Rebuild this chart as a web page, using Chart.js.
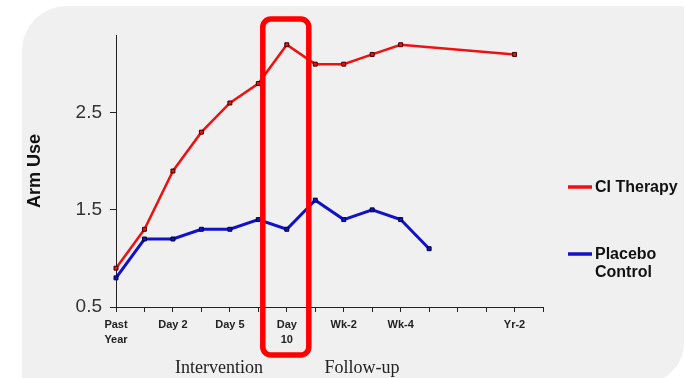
<!DOCTYPE html>
<html>
<head>
<meta charset="utf-8">
<script src="https://cdn.jsdelivr.net/npm/chart.js@4.4.1/dist/chart.umd.min.js"></script>
<style>
  html, body { margin: 0; padding: 0; background: #fff; }
  #wrap { position: relative; width: 685px; height: 378px; overflow: hidden; }
  #panel {
    position: absolute; left: 22px; top: 6px; width: 662px; height: 377px;
    background: #f0f0f0; border-radius: 45px 0 40px 0;
  }
  canvas { position: absolute; left: 0; top: 0; }
</style>
</head>
<body>
<div id="wrap">
  <div id="panel"></div>
  <canvas id="chart" width="685" height="378"></canvas>
</div>
<script>
// x positions (one per tick), blank ones are unlabelled ticks
const timeLabels = [["Past", "Year"], "", "Day 2", "", "Day 5", "", ["Day", "10"], "",
  "Wk-2", "", "Wk-4", "", "", "", "Yr-2", ""];
const ciTherapy = [0.9, 1.3, 1.9, 2.3, 2.6, 2.8, 3.2, 3.0, 3.0, 3.1, 3.2, null, null, null, 3.1, null];
const placebo = [0.8, 1.2, 1.2, 1.3, 1.3, 1.4, 1.3, 1.6, 1.4, 1.5, 1.4, 1.1, null, null, null, null];
const yTicks = [0.5, 1.5, 2.5];
const phaseLabels = ["Intervention", "Follow-up"];

const RED = "#ee1111";
const BLUE = "#1111cc";

// red box around Day 10, phase captions and the legend on the right
const extras = {
  id: "extras",
  afterDraw(chart) {
    const { ctx, scales: { x } } = chart;
    const cx = x.getPixelForValue(6);
    ctx.save();
    ctx.strokeStyle = "#ff0000";
    ctx.lineWidth = 5.5;
    ctx.beginPath();
    ctx.roundRect(cx - 24, 19, 46, 336, 8);
    ctx.stroke();

    ctx.fillStyle = "#222";
    ctx.font = "18px 'Liberation Serif', serif";
    ctx.textAlign = "center";
    ctx.textBaseline = "middle";
    ctx.fillText(phaseLabels[0], 219, 368);
    ctx.fillText(phaseLabels[1], 362, 368);

    // legend
    ctx.textAlign = "left";
    ctx.font = "bold 16px 'Liberation Sans', Arial, sans-serif";
    ctx.lineWidth = 3.5;
    const items = [
      { color: RED, lines: ["CI Therapy"], y: 187 },
      { color: BLUE, lines: ["Placebo", "Control"], y: 254 },
    ];
    items.forEach((it) => {
      ctx.strokeStyle = it.color;
      ctx.beginPath();
      ctx.moveTo(568, it.y);
      ctx.lineTo(592, it.y);
      ctx.stroke();
      ctx.fillStyle = "#111";
      it.lines.forEach((t, i) => ctx.fillText(t, 595, it.y + 1 + i * 18));
    });
    ctx.restore();
  },
};

new Chart(document.getElementById("chart"), {
  type: "line",
  data: {
    labels: timeLabels,
    datasets: [
      {
        label: "CI Therapy",
        data: ciTherapy,
        borderColor: RED,
        backgroundColor: RED,
        borderWidth: 2.5,
        pointStyle: "rect",
        pointRadius: 2.8,
        pointBorderColor: "#3a0000",
        pointBorderWidth: 1,
        spanGaps: true,
        tension: 0,
      },
      {
        label: "Placebo Control",
        data: placebo,
        borderColor: BLUE,
        backgroundColor: BLUE,
        borderWidth: 3,
        pointStyle: "rect",
        pointRadius: 2.8,
        pointBorderColor: "#000033",
        pointBorderWidth: 1,
        spanGaps: false,
        tension: 0,
      },
    ],
  },
  options: {
    responsive: false,
    animation: false,
    layout: { padding: { left: 0, right: 142, top: 35, bottom: 0 } },
    plugins: { legend: { display: false }, tooltip: { enabled: false } },
    scales: {
      x: {
        type: "category",
        offset: false,
        afterFit: (s) => { s.height = 71; },
        border: { color: "#222", width: 1 },
        grid: { drawOnChartArea: false, drawTicks: true, tickLength: 5, color: "#222" },
        ticks: {
          autoSkip: false,
          maxRotation: 0,
          color: "#222",
          padding: 6,
          font: { family: "'Liberation Sans', Arial, sans-serif", size: 11, weight: "bold", lineHeight: 1.35 },
        },
      },
      y: {
        min: 0.5,
        max: 3.3,
        afterFit: (s) => { s.width = 116; },
        afterBuildTicks: (s) => { s.ticks = yTicks.map((v) => ({ value: v })); },
        border: { color: "#222", width: 1 },
        grid: { drawOnChartArea: false, drawTicks: true, tickLength: 6, color: "#222" },
        ticks: {
          color: "#333",
          padding: 8,
          font: { family: "'Liberation Sans', Arial, sans-serif", size: 19 },
          callback: (v) => v.toFixed(1),
        },
        title: {
          display: true,
          text: "Arm Use",
          color: "#111",
          padding: { top: 24, bottom: 0 },
          font: { family: "'Liberation Sans', Arial, sans-serif", size: 18, weight: "bold" },
        },
      },
    },
  },
  plugins: [extras],
});
</script>
</body>
</html>
